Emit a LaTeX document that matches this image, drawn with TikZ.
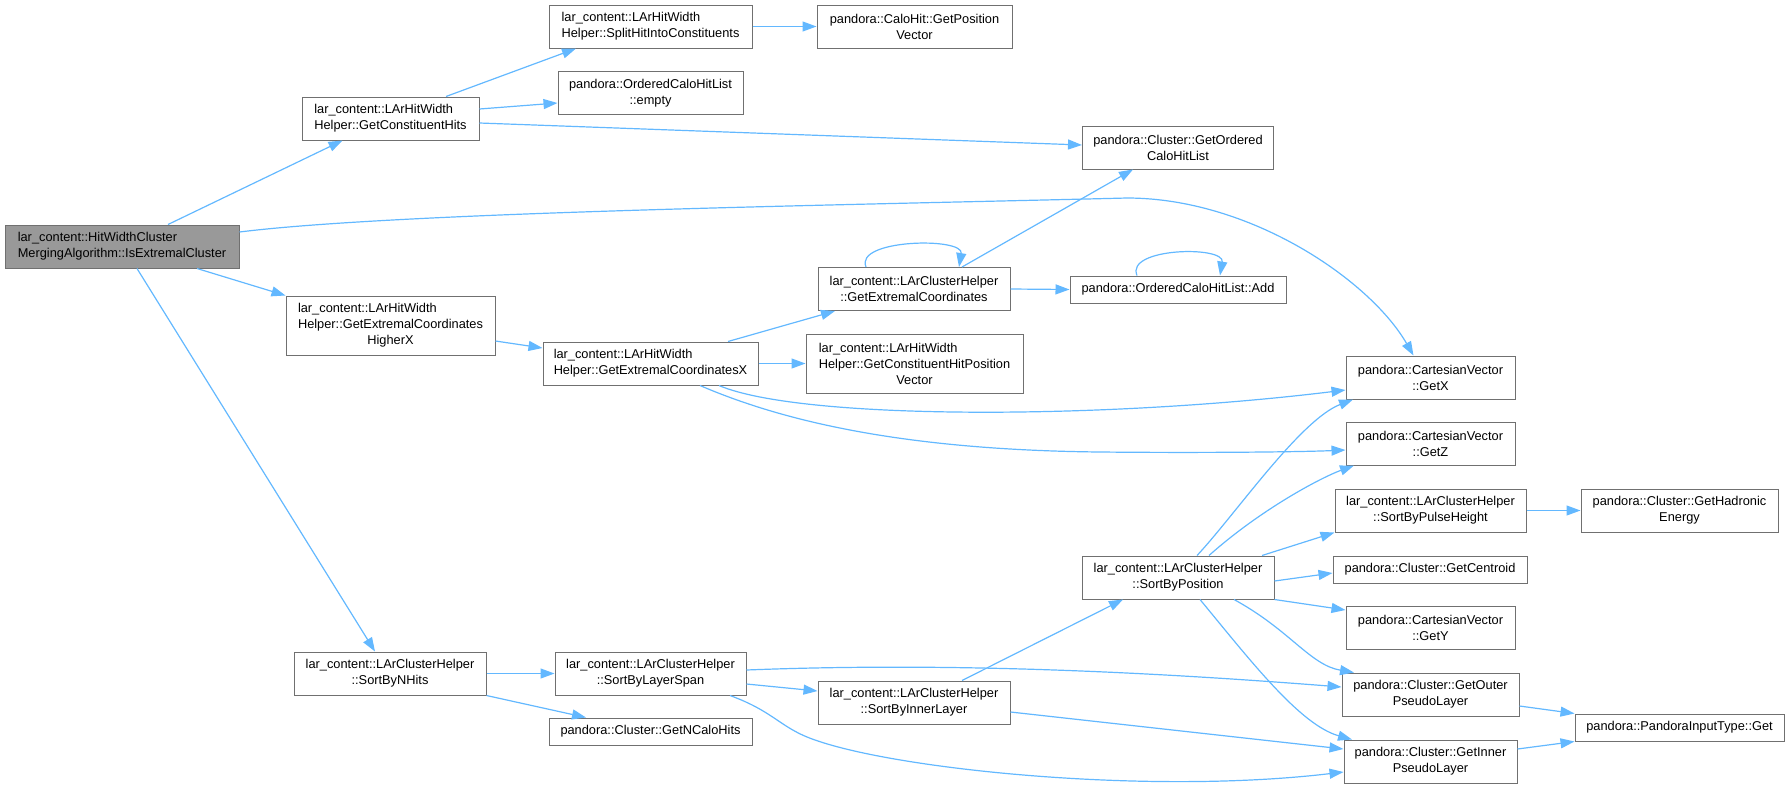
\documentclass[tikz,border=0pt]{standalone}
\usepackage{fontspec}
\setmainfont{Liberation Sans}
\usepackage{calc}
\usetikzlibrary{arrows.meta}
\definecolor{edgeblue}{HTML}{63B8FF}
\definecolor{boxgray}{HTML}{707070}
\definecolor{rootfill}{HTML}{999999}
\tikzset{
  fn/.style={draw=boxgray, line width=1pt, fill=white, rectangle, inner sep=1pt,
    font=\fontsize{12.8}{16}\selectfont, text=black, align=center},
  lt/.style={fn, align=left},
  rootnode/.style={lt, fill=rootfill},
  edge/.style={draw=edgeblue, line width=1.2pt, -{Triangle[length=14pt,width=10pt]}}
}
\begin{document}
\begin{tikzpicture}[x=1pt,y=-1pt]
\useasboundingbox (0,0) rectangle (1789,788);
% column 1
\node[rootnode, minimum width=234, minimum height=43] (root) at (122,246.5) {lar\_content::HitWidthCluster\\MergingAlgorithm::IsExtremalCluster};
% column 2
\node[lt, minimum width=177, minimum height=43] (gch) at (390.5,118.5) {lar\_content::LArHitWidth\\Helper::GetConstituentHits};
\node[fn, minimum width=209, minimum height=59] (hx) at (390.5,325.5) {\makebox[\widthof{Helper::GetExtremalCoordinates}][l]{lar\_content::LArHitWidth}\\Helper::GetExtremalCoordinates\\HigherX};
\node[fn, minimum width=192, minimum height=43] (nhits) at (390,673.5) {lar\_content::LArClusterHelper\\::SortByNHits};
% column 3
\node[lt, minimum width=203, minimum height=43] (split) at (650.5,26.5) {lar\_content::LArHitWidth\\Helper::SplitHitIntoConstituents};
\node[fn, minimum width=185, minimum height=43] (empty) at (650.5,93) {pandora::OrderedCaloHitList\\::empty};
\node[lt, minimum width=215, minimum height=43] (ecx) at (650.5,363.5) {lar\_content::LArHitWidth\\Helper::GetExtremalCoordinatesX};
\node[fn, minimum width=191, minimum height=43] (span) at (650.5,673.5) {lar\_content::LArClusterHelper\\::SortByLayerSpan};
\node[fn, minimum width=203, minimum height=27] (ncalo) at (650.5,731.5) {pandora::Cluster::GetNCaloHits};
% column 4
\node[fn, minimum width=195, minimum height=43] (cpos) at (914.5,26.5) {pandora::CaloHit::GetPosition\\Vector};
\node[fn, minimum width=192, minimum height=43] (gec) at (914,289) {lar\_content::LArClusterHelper\\::GetExtremalCoordinates};
\node[fn, minimum width=217, minimum height=59] (chpv) at (914.5,363.5) {\makebox[\widthof{Helper::GetConstituentHitPosition}][l]{lar\_content::LArHitWidth}\\Helper::GetConstituentHitPosition\\Vector};
\node[fn, minimum width=192, minimum height=43] (sil) at (914,702.5) {lar\_content::LArClusterHelper\\::SortByInnerLayer};
% column 5
\node[fn, minimum width=191, minimum height=43] (gochl) at (1178,147.5) {pandora::Cluster::GetOrdered\\CaloHitList};
\node[fn, minimum width=216, minimum height=27] (add) at (1178,289.5) {pandora::OrderedCaloHitList::Add};
\node[fn, minimum width=192, minimum height=43] (sbp) at (1178,577.5) {lar\_content::LArClusterHelper\\::SortByPosition};
% column 6
\node[fn, minimum width=169, minimum height=43] (getx) at (1430.5,377.5) {pandora::CartesianVector\\::GetX};
\node[fn, minimum width=169, minimum height=43] (getz) at (1430.5,443.5) {pandora::CartesianVector\\::GetZ};
\node[fn, minimum width=191, minimum height=43] (pulse) at (1430.5,510.5) {lar\_content::LArClusterHelper\\::SortByPulseHeight};
\node[fn, minimum width=194, minimum height=27] (centroid) at (1430,569.5) {pandora::Cluster::GetCentroid};
\node[fn, minimum width=169, minimum height=43] (gety) at (1430.5,627.5) {pandora::CartesianVector\\::GetY};
\node[fn, minimum width=177, minimum height=43] (outer) at (1430.5,694.5) {pandora::Cluster::GetOuter\\PseudoLayer};
\node[fn, minimum width=173, minimum height=43] (innerpl) at (1430.5,761.5) {pandora::Cluster::GetInner\\PseudoLayer};
% column 7
\node[fn, minimum width=197, minimum height=43] (hadr) at (1679.5,510.5) {pandora::Cluster::GetHadronic\\Energy};
\node[fn, minimum width=209, minimum height=27] (pget) at (1679.5,727.5) {pandora::PandoraInputType::Get};

% edges
\draw[edge] ([xshift=46]root.north) -- ([xshift=-48]gch.south);
\draw[edge] ([yshift=14.5]root.east) .. controls (400,212) and (850,205) .. (1127,198) .. controls (1250,198) and (1370,280) .. ([xshift=-17]getx.north);
\draw[edge] ([xshift=75]root.south) -- (hx.north west);
\draw[edge] ([xshift=15]root.south) -- ([xshift=-15]nhits.north);
\draw[edge] ([xshift=55.5]gch.north) -- ([xshift=-74.5]split.south);
\draw[edge] ([yshift=9.5]gch.east) -- ([yshift=-10]empty.west);
\draw[edge] ([yshift=-4.5]gch.east) -- ([yshift=2.5]gochl.west);
\draw[edge] (split.east) -- (cpos.west);
\draw[edge] ([yshift=-15.5]hx.east) -- ([yshift=15.5]ecx.west);
\draw[edge] ([xshift=77.5]ecx.north) -- ([xshift=-79]gec.south);
\draw[edge] (ecx.east) -- (chpv.west);
\draw[edge] ([xshift=68.5]ecx.south) .. controls (800,420) and (1100,420) .. ([yshift=-12.5]getx.west);
\draw[edge] ([xshift=49.5]ecx.south) .. controls (780,420) and (900,450) .. (1100,452) .. controls (1200,453) and (1300,452) .. ([yshift=-6.5]getz.west);
\draw[edge] ([xshift=-48]gec.north) .. controls +(-12,-28) and +(5,-30) .. ([xshift=45]gec.north);
\draw[edge] ([xshift=48]gec.north) -- ([xshift=-45]gochl.south);
\draw[edge] (gec.east) -- (add.west);
\draw[edge] ([xshift=-41]add.north) .. controls +(-12,-28) and +(5,-30) .. ([xshift=42]add.north);
\draw[edge] (nhits.east) -- (span.west);
\draw[edge] (nhits.south east) -- ([xshift=-64.5]ncalo.north);
\draw[edge] ([yshift=-10.5]span.east) -- ([yshift=11.5]sil.west);
\draw[edge] ([yshift=3.5]span.east) .. controls (950,662) and (1150,672) .. ([yshift=7.5]outer.west);
\draw[edge] ([xshift=79.5]span.south) .. controls (775,712) and (780,728) .. (815,740) .. controls (900,770) and (1150,795) .. ([yshift=-10.5]innerpl.west);
\draw[edge] ([xshift=48]sil.north) -- ([xshift=-55]sbp.south);
\draw[edge] ([yshift=-9.5]sil.east) -- ([yshift=12.5]innerpl.west);
\draw[edge] ([xshift=19]sbp.north) .. controls (1235,515) and (1300,420) .. ([xshift=-77.5]getx.south);
\draw[edge] ([xshift=31]sbp.north) .. controls (1260,510) and (1320,478) .. ([xshift=-76.5]getz.south);
\draw[edge] ([xshift=84]sbp.north) -- (pulse.south west);
\draw[edge] ([yshift=-3.5]sbp.east) -- ([yshift=-3.5]centroid.west);
\draw[edge] (sbp.south east) -- ([yshift=17.5]gety.west);
\draw[edge] ([xshift=56]sbp.south) .. controls (1290,630) and (1310,665) .. ([xshift=-76.5]outer.north);
\draw[edge] ([xshift=22]sbp.south) .. controls (1250,660) and (1300,725) .. ([xshift=-78.5]innerpl.north);
\draw[edge] (pulse.east) -- (hadr.west);
\draw[edge] ([yshift=-11.5]outer.east) -- (pget.north west);
\draw[edge] ([yshift=12.5]innerpl.east) -- (pget.south west);
\end{tikzpicture}
\end{document}
